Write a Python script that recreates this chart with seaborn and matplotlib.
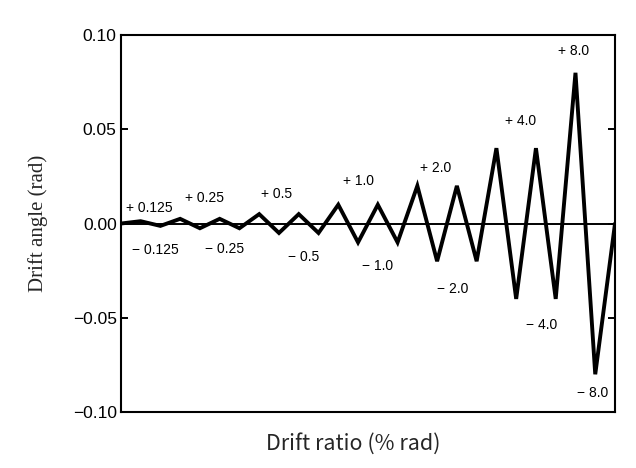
import matplotlib
matplotlib.use("Agg")
import matplotlib.pyplot as plt
import seaborn as sns
import pandas as pd
import numpy as np

# Loading protocol (drift angle, rad)
step = list(range(26))
drift_angle = [0.0,
               0.00125, -0.00125,
               0.0025, -0.0025, 0.0025, -0.0025,
               0.005, -0.005, 0.005, -0.005,
               0.01, -0.01, 0.01, -0.01,
               0.02, -0.02, 0.02, -0.02,
               0.04, -0.04, 0.04, -0.04,
               0.08, -0.08,
               0.0]

pos_labels = ["+ 0.125", "+ 0.25", "+ 0.5", "+ 1.0", "+ 2.0", "+ 4.0", "+ 8.0"]
pos_x = [1.42, 4.25, 7.9, 12.0, 15.95, 20.24, 22.9]
pos_y = [0.0085, 0.0133, 0.0159, 0.0228, 0.0297, 0.0546, 0.0918]
neg_labels = ["− 0.125", "− 0.25", "− 0.5", "− 1.0", "− 2.0", "− 4.0", "− 8.0"]
neg_x = [1.77, 5.26, 9.26, 13.0, 16.8, 21.3, 23.85]
neg_y = [-0.0138, -0.0133, -0.018, -0.0223, -0.035, -0.0536, -0.090]

y_ticks = [-0.10, -0.05, 0.0, 0.05, 0.10]
y_ticklabels = ["−0.10", "−0.05", "0.00", "0.05", "0.10"]

sns.set_style("white")
plt.rcParams['font.family'] = ['Liberation Sans', 'DejaVu Sans']

df = pd.DataFrame({"step": step, "angle": drift_angle})

fig = plt.figure(figsize=(6.36, 4.68), dpi=100)
ax = fig.add_axes([0.190, 0.1197, 0.777, 0.8053])

ax.axhline(0, color="black", lw=1.4, zorder=1)
sns.lineplot(data=df, x="step", y="angle", ax=ax, color="black", lw=2.8,
             zorder=3, solid_joinstyle="miter")

for t, x, y in zip(pos_labels, pos_x, pos_y):
    ax.text(x, y, t, ha="center", va="center", fontsize=10, color="black")
for t, x, y in zip(neg_labels, neg_x, neg_y):
    ax.text(x, y, t, ha="center", va="center", fontsize=10, color="black")

ax.set_xlim(0, 25)
ax.set_ylim(-0.10, 0.10)
ax.set_yticks(y_ticks)
ax.set_yticklabels(y_ticklabels, fontsize=12.5)
ax.set_xticks([])
ax.tick_params(axis="y", direction="in", length=5, width=1.4, left=True,
               right=True, pad=3, colors="black")

for s in ax.spines.values():
    s.set_visible(True)
    s.set_color("black")
    s.set_linewidth(1.5)

ax.set_xlabel("Drift ratio (% rad)", fontsize=15.5,
              family=['Noto Sans CJK JP', 'DejaVu Sans'])
ax.xaxis.set_label_coords(0.47, -0.054)
ax.set_ylabel("Drift angle (rad)", fontsize=15, family=['Liberation Serif'],
              labelpad=18)

fig.savefig("out.png", dpi=100)
